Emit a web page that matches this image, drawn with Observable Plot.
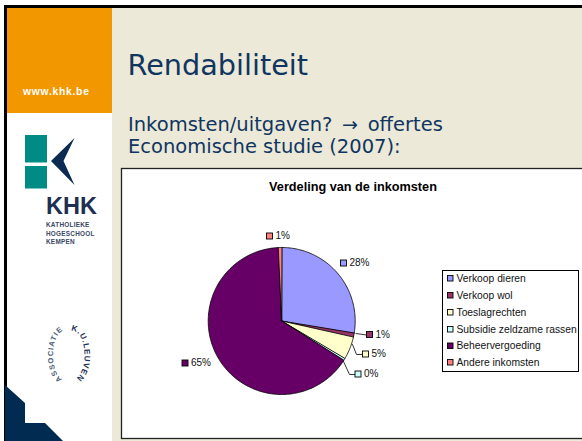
<!DOCTYPE html>
<html><head><meta charset="utf-8">
<script src="https://cdn.jsdelivr.net/npm/d3@7"></script>
<script src="https://cdn.jsdelivr.net/npm/@observablehq/plot@0.6"></script>
<style>
html,body{margin:0;padding:0;background:#fff;overflow:hidden}
#page{position:relative;width:582px;height:441px;overflow:hidden;font-family:"DejaVu Sans",sans-serif}
.abs{position:absolute}
#chart{position:absolute;left:0;top:0}
#chart svg{display:block;background:transparent}
</style></head><body>
<div id="page">
 <div class="abs" style="left:4px;top:5px;width:578px;height:436px;background:#000"></div>
 <div class="abs" style="left:7px;top:8px;width:575px;height:433px;background:#ECE9D8"></div>
 <div class="abs" style="left:7px;top:8px;width:105px;height:105px;background:#F39700"></div>
 <div class="abs" style="left:7px;top:113px;width:105px;height:328px;background:#fff"></div>
 <div class="abs" style="left:23px;top:86px;color:#fff;font:bold 10.3px 'Liberation Sans';letter-spacing:.75px;white-space:nowrap">www.khk.be</div>
 <div class="abs" style="left:127.5px;top:48px;color:#0F3560;font-size:28.7px;line-height:34px;white-space:nowrap">Rendabiliteit</div>
 <div class="abs" style="left:128px;top:112.5px;color:#0F3560;font-size:19.5px;line-height:22.5px;white-space:nowrap">Inkomsten/uitgaven? <span style="font-size:19px;margin:0 3.5px">→</span> offertes<br>Economische studie (2007):</div>
 <svg class="abs" style="left:0;top:0" width="112" height="441" viewBox="0 0 112 441">
  <rect x="25" y="135" width="22" height="27.5" fill="#008C84"/>
  <rect x="25" y="166" width="22" height="22.5" fill="#008C84"/>
  <path d="M74.5 138L51 161L74.5 185L63.5 161Z" fill="#0C2B52"/>
  <text x="46" y="214" font-family="Liberation Sans" font-weight="bold" font-size="23.5" fill="#1E2F50">KHK</text>
  <g font-family="Liberation Sans" font-weight="bold" font-size="6.4" fill="#3A4766" letter-spacing=".25">
   <text x="46" y="227">KATHOLIEKE</text><text x="46" y="235.5">HOGESCHOOL</text><text x="46" y="244">KEMPEN</text>
  </g>
  <defs><path id="arcL" d="M62 379A12 24 0 0 1 69 331"/><path id="arcR" d="M71 331A12 24 0 0 1 74 379"/></defs>
  <text font-family="Liberation Sans" font-weight="bold" font-size="7.4" letter-spacing="1" fill="#4A5A78"><textPath href="#arcL">ASSOCIATIE</textPath></text>
  <text font-family="Liberation Sans" font-weight="bold" font-size="8" letter-spacing=".8" fill="#1B2F55"><textPath href="#arcR">K.U.LEUVEN</textPath></text>
  <path d="M5 385L25 403L25 423L45 423L63 441L5 441Z" fill="#012B50"/>
 </svg>
 <div id="chart"></div>
</div>
<script>
const categories = ["Verkoop dieren","Verkoop wol","Toeslagrechten","Subsidie zeldzame rassen","Beheervergoeding","Andere inkomsten"];
const shares = [27.6,0.9,5.0,0.45,65.3,0.75];
const percentLabels = ["28%","1%","5%","0%","65%","1%"];
const colors = ["#9999FF","#993366","#FFFFCC","#CCFFFF","#660066","#FF8080"];
const chartTitle = "Verdeling van de inkomsten";

// layout (page pixels)
const cx = 281.2, cy = 320.5, r = 73.5;
const labelPos = [[343.5,263],[369.5,334.5],[365.5,354],[358,374],[185,363],[269.5,236]];
const leaders = [null,[[355.5,333],[366,334.5]],[[352,344],[356,354],[362,354]],[[343,361],[349,374],[354.5,374]],null,null];
const legendX = 447.5, legendRows = [278,295,312,329,345.5,362];

const arcs = d3.pie().sort(null).value(d=>d)(shares);
const slices = arcs.flatMap((a,i)=>{
  const n = Math.max(2,Math.ceil((a.endAngle-a.startAngle)*60));
  const pts=[{i,px:cx,py:cy}];
  for(let k=0;k<=n;k++){const t=a.startAngle+(a.endAngle-a.startAngle)*k/n;
    pts.push({i,px:cx+r*Math.sin(t),py:cy-r*Math.cos(t)});}
  return pts;
});
const idx = categories.map((_,i)=>i);
const leaderPts = leaders.flatMap((l,i)=>l?l.map(p=>({i,px:p[0],py:p[1]})):[]);
const swatch = {fill:i=>colors[i],stroke:"#000",strokeWidth:0.9};
const txt = {fill:"#111",fontFamily:"Liberation Sans",fontSize:10,textAnchor:"start"};

const chart = Plot.plot({
  width:582,height:441,margin:0,
  x:{domain:[0,582],range:[0,582],axis:null},
  y:{domain:[0,441],range:[0,441],axis:null},
  marks:[
    Plot.rect([0],{x1:()=>121.5,x2:()=>590,y1:()=>168.5,y2:()=>438.5,fill:"#fff",stroke:"#222",strokeWidth:1.3}),
    Plot.text([chartTitle],{x:()=>352.5,y:()=>186,text:d=>d,fontFamily:"Liberation Sans",fontWeight:"bold",fontSize:12.7,fill:"#000"}),
    Plot.line(slices,{x:"px",y:"py",z:"i",fill:d=>colors[d.i],stroke:"#000",strokeWidth:0.8,curve:"linear-closed"}),
    Plot.line(leaderPts,{x:"px",y:"py",z:"i",stroke:"#000",strokeWidth:0.8}),
    Plot.rect(idx,{x1:i=>labelPos[i][0]-3,x2:i=>labelPos[i][0]+3,y1:i=>labelPos[i][1]-3,y2:i=>labelPos[i][1]+3,...swatch}),
    Plot.text(idx,{x:i=>labelPos[i][0]+5.5,y:i=>labelPos[i][1]-0.5,text:i=>percentLabels[i],...txt}),
    Plot.rect([0],{x1:()=>442.5,x2:()=>578.5,y1:()=>270.5,y2:()=>371.5,fill:"#fff",stroke:"#000",strokeWidth:1}),
    Plot.rect(idx,{x1:()=>legendX,x2:()=>legendX+5.5,y1:i=>legendRows[i]-2.5,y2:i=>legendRows[i]+3,...swatch}),
    Plot.text(idx,{x:()=>456,y:i=>legendRows[i],text:i=>categories[i],...txt,fontSize:10.3})
  ]
});
document.getElementById("chart").appendChild(chart);
</script>
</body></html>
